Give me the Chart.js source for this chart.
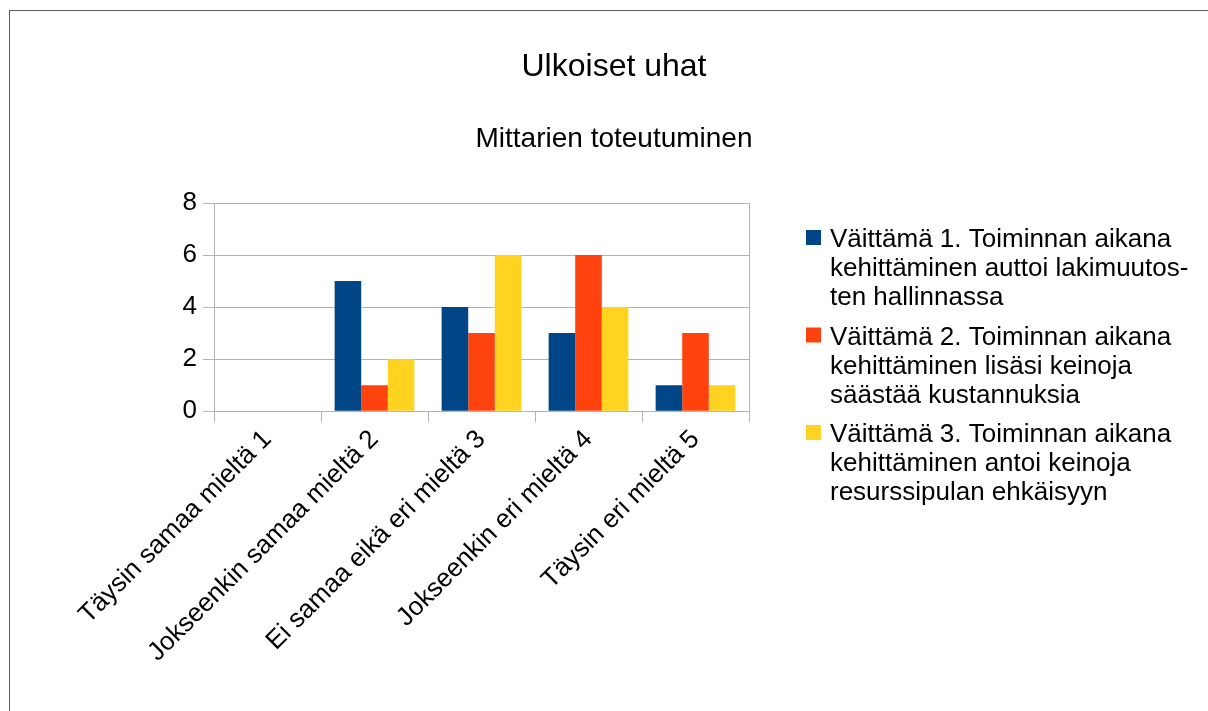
<!DOCTYPE html>
<html>
<head>
<meta charset="utf-8">
<script src="https://cdn.jsdelivr.net/npm/chart.js@4/dist/chart.umd.min.js"></script>
<style>
    html, body { margin: 0; padding: 0; background: #fff; overflow: hidden; width: 1208px; height: 711px; }
    #frame { position: absolute; left: 9px; top: 10px; width: 1300px; height: 800px; border: 1px solid #5a5a5a; }
    #myBarChart { position: absolute; left: 10px; top: 10px; }
</style>
</head>
<body>
<div id="frame"></div>
<canvas id="myBarChart" width="1208" height="701"></canvas>
<script>
var CATEGORIES = ['Täysin samaa mieltä 1', 'Jokseenkin samaa mieltä 2', 'Ei samaa eikä eri mieltä 3', 'Jokseenkin eri mieltä 4', 'Täysin eri mieltä 5'];
var VAITTAMA_1 = [0, 5, 4, 3, 1];
var VAITTAMA_2 = [0, 1, 3, 6, 3];
var VAITTAMA_3 = [0, 2, 6, 4, 1];
var SERIES_LABELS = [
    'Väittämä 1. Toiminnan aikana kehittäminen auttoi lakimuutosten hallinnassa',
    'Väittämä 2. Toiminnan aikana kehittäminen lisäsi keinoja säästää kustannuksia',
    'Väittämä 3. Toiminnan aikana kehittäminen antoi keinoja resurssipulan ehkäisyyn'
];
var LEGEND_LINES = [
    ['Väittämä 1. Toiminnan aikana', 'kehittäminen auttoi lakimuutos-', 'ten hallinnassa'],
    ['Väittämä 2. Toiminnan aikana', 'kehittäminen lisäsi keinoja', 'säästää kustannuksia'],
    ['Väittämä 3. Toiminnan aikana', 'kehittäminen antoi keinoja', 'resurssipulan ehkäisyyn']
];
var Y_TICKS = [0, 2, 4, 6, 8];
var SERIES_COLOR = ['#004586', '#ff420e', '#ffd320'];

var FONT = "'Liberation Sans', Arial, sans-serif";
var GRID = '#b3b3b3';

Chart.defaults.font.family = FONT;
Chart.defaults.color = '#000';

// legend on the right, wrapped like the original
var sideLegend = {
    id: 'sideLegend',
    afterDraw: function (chart) {
        var ctx = chart.ctx,
            area = chart.chartArea,
            x0 = area.right + 57,
            i, j, base;

        ctx.save();
        ctx.font = '26px ' + FONT;
        ctx.textBaseline = 'alphabetic';
        ctx.textAlign = 'left';
        for (i = 0; i < chart.data.datasets.length; i++) {
            base = area.top + 44 + i * 97.5;
            ctx.fillStyle = chart.data.datasets[i].backgroundColor;
            ctx.fillRect(x0, base - 17, 15, 15);
            ctx.fillStyle = '#000';
            for (j = 0; j < LEGEND_LINES[i].length; j++) {
                ctx.fillText(LEGEND_LINES[i][j], x0 + 24, base + j * 29);
            }
        }
        ctx.restore();
    }
};

function buildData() {
    var all = [VAITTAMA_1, VAITTAMA_2, VAITTAMA_3];
    return {
        labels: CATEGORIES,
        datasets: all.map(function (values, index) {
            return {
                label: SERIES_LABELS[index],
                data: values,
                backgroundColor: SERIES_COLOR[index],
                borderWidth: 0,
                barPercentage: 1,
                categoryPercentage: 0.745
            };
        })
    };
}

var myBarChart = new Chart(document.getElementById('myBarChart').getContext('2d'), {
    type: 'bar',
    data: buildData(),
    plugins: [sideLegend],
    options: {
        responsive: false,
        animation: false,
        layout: { padding: { left: 0, right: 0, top: 0, bottom: 41 } },
        plugins: {
            legend: { display: false },
            tooltip: { enabled: false },
            title: {
                display: true,
                text: 'Ulkoiset uhat',
                font: { size: 32, weight: 'normal' },
                color: '#000',
                padding: { top: 38, bottom: 36 }
            },
            subtitle: {
                display: true,
                text: 'Mittarien toteutuminen',
                font: { size: 28, weight: 'normal' },
                color: '#000',
                padding: { top: 0, bottom: 47 }
            }
        },
        scales: {
            x: {
                grid: { drawOnChartArea: false, color: GRID, tickLength: 11 },
                border: { color: GRID },
                ticks: {
                    font: { size: 26 },
                    color: '#000',
                    minRotation: 45,
                    maxRotation: 45,
                    autoSkip: false,
                    padding: 2
                }
            },
            y: {
                min: 0,
                max: 8,
                afterBuildTicks: function (scale) {
                    scale.ticks = Y_TICKS.map(function (v) { return { value: v }; });
                },
                afterFit: function (scale) { scale.width = 204; },
                grid: { color: GRID, tickLength: 11 },
                border: { color: GRID },
                ticks: { font: { size: 26 }, color: '#000', padding: 6 }
            },
            yRight: {
                position: 'right',
                min: 0,
                max: 8,
                grid: { display: false },
                border: { display: true, color: GRID },
                ticks: { display: false },
                afterFit: function (scale) { scale.width = 469; }
            }
        }
    }
});
</script>
</body>
</html>
